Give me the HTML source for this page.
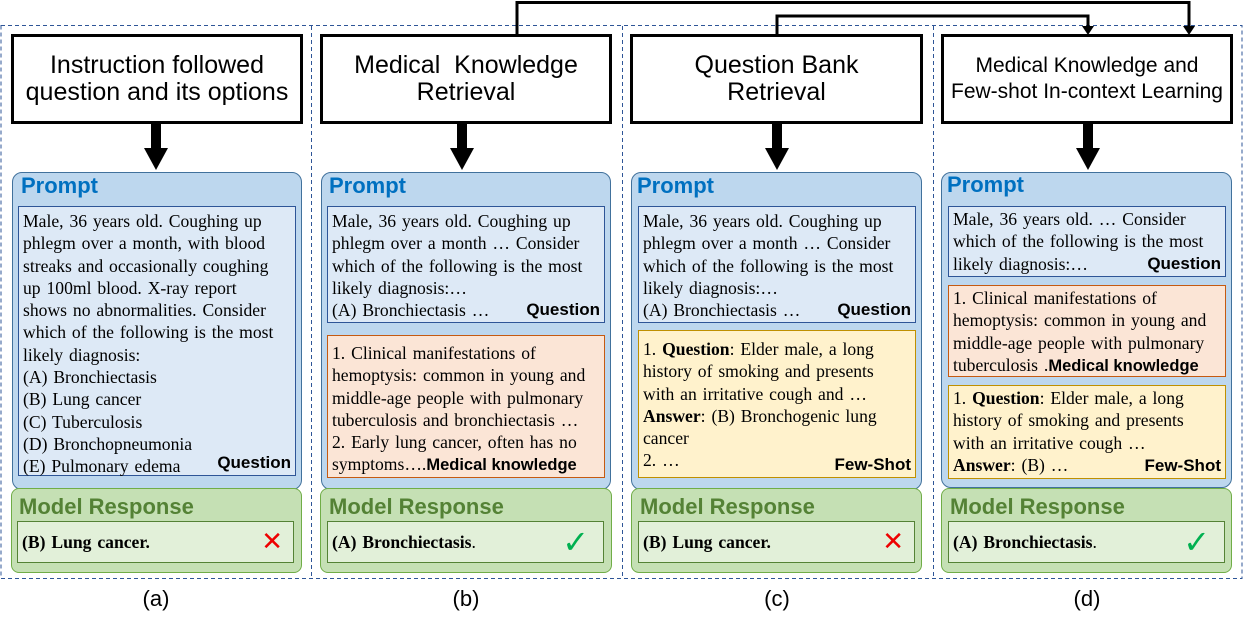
<!DOCTYPE html>
<html><head><meta charset="utf-8"><style>
body{margin:0;width:1245px;height:628px;background:#fff;position:relative;overflow:hidden;font-family:"Liberation Sans",sans-serif}
.a{position:absolute;box-sizing:border-box}
.title{border:3px solid #000;background:#fff;display:flex;align-items:center;justify-content:center;text-align:center;font-size:25px;line-height:27px;color:#000}
.prompt{background:#bdd7ee;border:1.5px solid #41719c;border-radius:10px}
.ph{font-weight:bold;color:#0070c0;font-size:22px}
.box{font-family:"Liberation Serif",serif;font-size:17.6px;word-spacing:1.5px;line-height:22.3px;padding:3px 4px 1px;white-space:nowrap;color:#000}
.q{background:#dde9f6;border:1.5px solid #2e5597}
.m{background:#fbe5d6;border:1.5px solid #c55a11}
.f{background:#fff2cc;border:1.5px solid #bf9000}
.lab{position:absolute;right:4px;bottom:1px;font-family:"Liberation Sans",sans-serif;font-weight:bold;font-size:17px;word-spacing:0}
.lab2{font-family:"Liberation Sans",sans-serif;font-weight:bold;font-size:16.5px;word-spacing:0}
.resp{background:#c5e0b4;border:1.5px solid #70ad47;border-radius:8px}
.rh{font-weight:bold;color:#548235;font-size:22px}
.ri{background:#e2f0d9;border:1.5px solid #548235;font-family:"Liberation Serif",serif;font-weight:bold;font-size:17.6px;word-spacing:1.5px;line-height:40px;padding-left:4px}
.cap{font-size:22px;text-align:center;width:60px}
</style></head><body>
<svg class="a" style="left:0;top:0" width="1245" height="628">
<rect x="1" y="25.5" width="1241" height="553" fill="none" stroke="#2e5597" stroke-width="1" stroke-dasharray="4,3"/>
<line x1="311.5" y1="26" x2="311.5" y2="578" stroke="#2e5597" stroke-dasharray="4,3"/>
<line x1="622.5" y1="26" x2="622.5" y2="578" stroke="#2e5597" stroke-dasharray="4,3"/>
<line x1="933.5" y1="26" x2="933.5" y2="578" stroke="#2e5597" stroke-dasharray="4,3"/>
<polyline points="517,35 517,2.5 1189,2.5 1189,28" fill="none" stroke="#000" stroke-width="3"/>
<polygon points="1183,26 1195,26 1189,35" fill="#000"/>
<polyline points="777,35 777,16 1088,16 1088,28" fill="none" stroke="#000" stroke-width="3"/>
<polygon points="1082,26 1094,26 1088,35" fill="#000"/>
<g fill="#000">
<rect x="151" y="123" width="10" height="26"/><polygon points="144,148 168,148 156,170"/>
<rect x="457" y="123" width="10" height="26"/><polygon points="450,148 474,148 462,170"/>
<rect x="772" y="123" width="10" height="26"/><polygon points="765,148 789,148 777,170"/>
<rect x="1083" y="123" width="10" height="26"/><polygon points="1076,148 1100,148 1088,170"/>
</g>
</svg>

<!-- column a -->
<div class="a title" style="left:11px;top:34px;width:292px;height:90px">Instruction followed<br>question and its options</div>
<div class="a prompt" style="left:12px;top:172px;width:290px;height:318px"></div>
<div class="a ph" style="left:21px;top:173px">Prompt</div>
<div class="a box q" style="left:18px;top:206px;width:278px;height:270px">Male, 36 years old. Coughing up<br>phlegm over a month, with blood<br>streaks and occasionally coughing<br>up 100ml blood. X-ray report<br>shows no abnormalities. Consider<br>which of the following is the most<br>likely diagnosis:<br>(A) Bronchiectasis<br>(B) Lung cancer<br>(C) Tuberculosis<br>(D) Bronchopneumonia<br>(E) Pulmonary edema<span class="lab">Question</span></div>
<div class="a resp" style="left:11px;top:488px;width:291px;height:85px"></div>
<div class="a rh" style="left:19px;top:494px">Model Response</div>
<div class="a ri" style="left:17px;top:521px;width:277px;height:42px">(B) Lung cancer.<span style="position:absolute;right:10px;top:0;color:#e00;font-family:'DejaVu Sans';font-size:26px;line-height:40px">✕</span></div>
<div class="a cap" style="left:126px;top:586px">(a)</div>

<!-- column b -->
<div class="a title" style="left:320px;top:34px;width:292px;height:90px"><span>Medical&nbsp; Knowledge<br>Retrieval</span></div>
<div class="a prompt" style="left:321px;top:172px;width:290px;height:318px"></div>
<div class="a ph" style="left:329px;top:173px">Prompt</div>
<div class="a box q" style="left:327px;top:206px;width:278px;height:117px">Male, 36 years old. Coughing up<br>phlegm over a month … Consider<br>which of the following is the most<br>likely diagnosis:…<br>(A) Bronchiectasis …<span class="lab">Question</span></div>
<div class="a box m" style="left:327px;top:335px;width:278px;height:143px;padding-top:6px">1. Clinical manifestations of<br>hemoptysis: common in young and<br>middle-age people with pulmonary<br>tuberculosis and bronchiectasis …<br>2. Early lung cancer, often has no<br>symptoms….<span class="lab2">Medical knowledge</span></div>
<div class="a resp" style="left:320px;top:488px;width:292px;height:85px"></div>
<div class="a rh" style="left:329px;top:494px">Model Response</div>
<div class="a ri" style="left:327px;top:521px;width:277px;height:42px">(A) Bronchiectasis<span style="font-weight:normal">.</span><span style="position:absolute;right:14px;top:-2px;color:#00b050;font-family:'DejaVu Sans';font-size:32px;line-height:44px">✓</span></div>
<div class="a cap" style="left:436px;top:586px">(b)</div>

<!-- column c -->
<div class="a title" style="left:630px;top:34px;width:293px;height:90px">Question Bank<br>Retrieval</div>
<div class="a prompt" style="left:631px;top:172px;width:291px;height:318px"></div>
<div class="a ph" style="left:637px;top:173px">Prompt</div>
<div class="a box q" style="left:638px;top:206px;width:278px;height:117px">Male, 36 years old. Coughing up<br>phlegm over a month … Consider<br>which of the following is the most<br>likely diagnosis:…<br>(A) Bronchiectasis …<span class="lab">Question</span></div>
<div class="a box f" style="left:638px;top:330px;width:278px;height:148px;padding-top:7px">1. <b>Question</b>: Elder male, a long<br>history of smoking and presents<br>with an irritative cough and …<br><b>Answer</b>: (B) Bronchogenic lung<br>cancer<br>2. …<span class="lab">Few-Shot</span></div>
<div class="a resp" style="left:631px;top:488px;width:291px;height:85px"></div>
<div class="a rh" style="left:640px;top:494px">Model Response</div>
<div class="a ri" style="left:638px;top:521px;width:277px;height:42px">(B) Lung cancer.<span style="position:absolute;right:10px;top:0;color:#e00;font-family:'DejaVu Sans';font-size:26px;line-height:40px">✕</span></div>
<div class="a cap" style="left:747px;top:586px">(c)</div>

<!-- column d -->
<div class="a title" style="left:941px;top:34px;width:292px;height:90px;font-size:21px;line-height:26px">Medical Knowledge and<br>Few-shot In-context Learning</div>
<div class="a prompt" style="left:941px;top:172px;width:291px;height:316px"></div>
<div class="a ph" style="left:947px;top:172px">Prompt</div>
<div class="a box q" style="left:948px;top:206px;width:278px;height:71px;padding-top:1px">Male, 36 years old. … Consider<br>which of the following is the most<br>likely diagnosis:…<span class="lab">Question</span></div>
<div class="a box m" style="left:948px;top:285px;width:278px;height:92px;padding-top:1px">1. Clinical manifestations of<br>hemoptysis: common in young and<br>middle-age people with pulmonary<br>tuberculosis .<span class="lab2">Medical knowledge</span></div>
<div class="a box f" style="left:948px;top:385px;width:278px;height:94px;padding-top:1px">1. <b>Question</b>: Elder male, a long<br>history of smoking and presents<br>with an irritative cough …<br><b>Answer</b>: (B) …<span class="lab">Few-Shot</span></div>
<div class="a resp" style="left:941px;top:488px;width:291px;height:85px"></div>
<div class="a rh" style="left:950px;top:494px">Model Response</div>
<div class="a ri" style="left:948px;top:521px;width:277px;height:42px">(A) Bronchiectasis<span style="font-weight:normal">.</span><span style="position:absolute;right:14px;top:-2px;color:#00b050;font-family:'DejaVu Sans';font-size:32px;line-height:44px">✓</span></div>
<div class="a cap" style="left:1057px;top:586px">(d)</div>
</body></html>
